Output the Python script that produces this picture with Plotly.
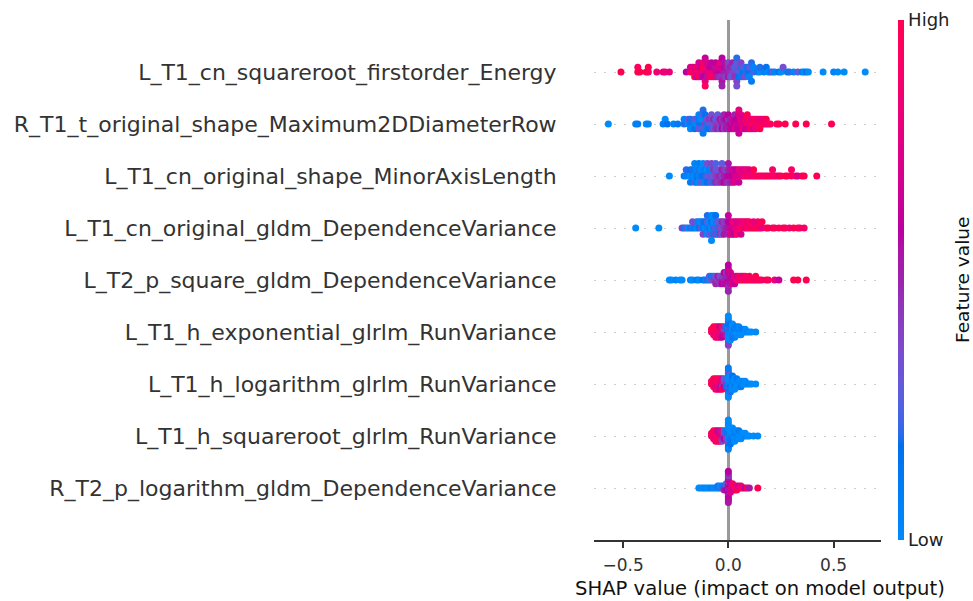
import numpy as np
import plotly.graph_objects as go

# ---------------- data ----------------
features = [
    "L_T1_cn_squareroot_firstorder_Energy",
    "R_T1_t_original_shape_Maximum2DDiameterRow",
    "L_T1_cn_original_shape_MinorAxisLength",
    "L_T1_cn_original_gldm_DependenceVariance",
    "L_T2_p_square_gldm_DependenceVariance",
    "L_T1_h_exponential_glrlm_RunVariance",
    "L_T1_h_logarithm_glrlm_RunVariance",
    "L_T1_h_squareroot_glrlm_RunVariance",
    "R_T2_p_logarithm_gldm_DependenceVariance",
]
x_tick_vals = [-0.5, 0.0, 0.5]
x_tick_text = ["\u22120.5", "0.0", "0.5"]
colorbar_labels = ["Low", "High"]

shap_energy = [
    -0.51, -0.43, -0.43, -0.42, -0.39, -0.38, -0.38, -0.34, -0.31, -0.30, -0.28,
    -0.20, -0.18, -0.18, -0.17, -0.17, -0.16, -0.16, -0.16, -0.15, -0.15, -0.15,
    -0.14, -0.14, -0.14, -0.14, -0.13, -0.13, -0.13, -0.12, -0.12, -0.12, -0.12,
    -0.11, -0.11, -0.11, -0.10, -0.10, -0.10, -0.10, -0.09, -0.09, -0.09,
    -0.08, -0.08, -0.08, -0.08, -0.07, -0.07, -0.07, -0.06, -0.06, -0.06, -0.06,
    -0.05, -0.05, -0.05, -0.04, -0.04, -0.04, -0.04, -0.03, -0.03, -0.03,
    -0.02, -0.02, -0.02, -0.02, -0.01, -0.01, -0.01, 0.00, 0.00, 0.00, 0.00,
    0.01, 0.01, 0.01, 0.02, 0.02, 0.02, 0.02, 0.03, 0.03, 0.03,
    0.04, 0.04, 0.04, 0.04, 0.05, 0.05, 0.05, 0.06, 0.06, 0.06, 0.06,
    0.07, 0.07, 0.07, 0.08, 0.08, 0.08, 0.09, 0.09, 0.10, 0.10, 0.10, 0.11, 0.11, 0.12, 0.12,
    0.14, 0.15, 0.15, 0.17, 0.18, 0.19, 0.20, 0.21, 0.22, 0.24, 0.25, 0.26, 0.28, 0.29, 0.31,
    0.33, 0.35, 0.36, 0.37, 0.38, 0.45, 0.50, 0.52, 0.55, 0.65,
]
feat_energy = [
    1.0, 1.0, 0.95, 1.0, 1.0, 0.95, 1.0, 0.85, 0.8, 0.85, 0.8,
    0.6, 0.9, 0.7, 1.0, 0.8, 0.85, 0.7, 0.95, 0.8, 1.0, 0.65,
    0.85, 0.75, 1.0, 0.7, 0.9, 0.65, 0.8, 0.75, 1.0, 0.6, 0.85,
    0.8, 0.65, 0.95, 0.7, 0.85, 0.55, 0.75, 0.9, 0.65, 0.8,
    0.75, 0.6, 0.9, 0.6, 0.85, 0.65, 1.0, 0.7, 0.55, 0.8, 0.6,
    0.65, 0.75, 0.5, 0.6, 0.7, 0.45, 0.8, 0.55, 0.6, 0.5,
    0.5, 0.6, 0.45, 0.55, 0.5, 0.55, 0.4, 0.5, 0.45, 0.55, 0.4,
    0.45, 0.5, 0.35, 0.4, 0.45, 0.3, 0.5, 0.4, 0.25, 0.45,
    0.3, 0.4, 0.2, 0.35, 0.25, 0.35, 0.15, 0.3, 0.2, 0.1, 0.4,
    0.15, 0.3, 0.2, 0.1, 0.25, 0.35, 0.2, 0.1, 0.15, 0.3, 0.05, 0.2, 0.1, 0.25, 0.05,
    0.1, 0.0, 0.2, 0.05, 0.15, 0.0, 0.1, 0.3, 0.05, 0.15, 0.0, 0.35, 0.1, 0.2, 0.05,
    0.3, 0.1, 0.0, 0.15, 0.0, 0.0, 0.05, 0.0, 0.0, 0.0,
]

shap_diameter = [
    -0.57, -0.44, -0.43, -0.39, -0.38, -0.31, -0.30, -0.29, -0.26, -0.24,
    -0.21, -0.21, -0.19, -0.19, -0.18, -0.18, -0.18, -0.16, -0.16, -0.16, -0.15, -0.15,
    -0.14, -0.14, -0.14, -0.14, -0.13, -0.13, -0.13, -0.12, -0.12, -0.12,
    -0.11, -0.11, -0.11, -0.11, -0.10, -0.10, -0.10, -0.09, -0.09, -0.09,
    -0.08, -0.08, -0.08, -0.08, -0.07, -0.07, -0.07, -0.06, -0.06, -0.06,
    -0.05, -0.05, -0.05, -0.05, -0.04, -0.04, -0.04, -0.03, -0.03, -0.03,
    -0.02, -0.02, -0.02, -0.02, -0.01, -0.01, -0.01, 0.00, 0.00, 0.00, 0.00,
    0.01, 0.01, 0.01, 0.02, 0.02, 0.02, 0.03, 0.03, 0.03, 0.03,
    0.04, 0.04, 0.04, 0.05, 0.05, 0.05, 0.06, 0.06, 0.06, 0.06,
    0.07, 0.07, 0.07, 0.08, 0.08, 0.08, 0.09, 0.09, 0.09, 0.09,
    0.10, 0.10, 0.10, 0.11, 0.11, 0.11, 0.12, 0.12, 0.12, 0.13, 0.13, 0.13,
    0.14, 0.14, 0.15, 0.15, 0.15, 0.16, 0.16, 0.17, 0.17, 0.18, 0.18, 0.19, 0.20,
    0.23, 0.24, 0.27, 0.32, 0.37, 0.49,
]
feat_diameter = [
    0.0, 0.05, 0.1, 0.0, 0.05, 0.1, 0.0, 0.15, 0.05, 0.1,
    0.2, 0.05, 0.0, 0.3, 0.1, 0.2, 0.0, 0.05, 0.25, 0.15, 0.0, 0.3,
    0.2, 0.1, 0.35, 0.05, 0.15, 0.0, 0.25, 0.3, 0.1, 0.2,
    0.4, 0.05, 0.25, 0.15, 0.2, 0.35, 0.1, 0.3, 0.45, 0.15,
    0.25, 0.4, 0.2, 0.35, 0.35, 0.5, 0.3, 0.4, 0.25, 0.45,
    0.45, 0.35, 0.5, 0.3, 0.4, 0.55, 0.35, 0.5, 0.45, 0.6,
    0.45, 0.55, 0.4, 0.5, 0.5, 0.6, 0.55, 0.55, 0.45, 0.5, 0.6,
    0.6, 0.5, 0.65, 0.55, 0.7, 0.6, 0.65, 0.6, 0.75, 0.5,
    0.7, 0.6, 0.65, 0.75, 0.65, 0.8, 0.7, 0.85, 0.6, 0.75,
    0.8, 0.7, 0.9, 0.75, 0.85, 0.65, 0.9, 0.8, 0.7, 1.0,
    0.85, 0.95, 0.75, 0.9, 0.8, 1.0, 0.95, 0.85, 0.7, 1.0, 0.9, 0.8,
    0.85, 1.0, 0.9, 0.75, 1.0, 0.95, 0.85, 1.0, 0.8, 0.9, 1.0, 0.85, 0.95,
    0.9, 1.0, 1.0, 1.0, 1.0, 1.0,
]

shap_minoraxis = [
    -0.28, -0.21, -0.20, -0.20, -0.18, -0.18, -0.18, -0.17, -0.17,
    -0.16, -0.16, -0.16, -0.16, -0.15, -0.15, -0.15, -0.14, -0.14, -0.14, -0.14,
    -0.13, -0.13, -0.13, -0.12, -0.12, -0.12, -0.12, -0.11, -0.11, -0.11,
    -0.10, -0.10, -0.10, -0.10, -0.09, -0.09, -0.09, -0.08, -0.08, -0.08, -0.08,
    -0.07, -0.07, -0.07, -0.06, -0.06, -0.06, -0.06, -0.05, -0.05, -0.05,
    -0.04, -0.04, -0.04, -0.03, -0.03, -0.03, -0.03, -0.02, -0.02, -0.02,
    -0.01, -0.01, -0.01, 0.00, 0.00, 0.00, 0.00, 0.01, 0.01, 0.01,
    0.02, 0.02, 0.02, 0.03, 0.03, 0.03, 0.04, 0.04, 0.05, 0.05, 0.05,
    0.06, 0.06, 0.07, 0.07, 0.08, 0.08, 0.09, 0.09, 0.10, 0.10, 0.11, 0.12, 0.12,
    0.13, 0.14, 0.15, 0.16, 0.17, 0.18, 0.19, 0.20, 0.21, 0.21, 0.22, 0.23, 0.24,
    0.25, 0.27, 0.28, 0.30, 0.30, 0.32, 0.33, 0.35, 0.36, 0.42,
]
feat_minoraxis = [
    0.0, 0.1, 0.05, 0.2, 0.0, 0.15, 0.1, 0.05, 0.2,
    0.0, 0.1, 0.25, 0.05, 0.15, 0.0, 0.1, 0.05, 0.2, 0.0, 0.1,
    0.1, 0.0, 0.25, 0.15, 0.05, 0.3, 0.0, 0.2, 0.1, 0.05,
    0.25, 0.0, 0.15, 0.35, 0.3, 0.1, 0.2, 0.35, 0.05, 0.25, 0.4,
    0.3, 0.45, 0.2, 0.4, 0.35, 0.5, 0.25, 0.45, 0.3, 0.4,
    0.5, 0.35, 0.45, 0.4, 0.55, 0.5, 0.3, 0.5, 0.45, 0.6,
    0.55, 0.4, 0.5, 0.6, 0.5, 0.45, 0.55, 0.65, 0.55, 0.5,
    0.6, 0.7, 0.55, 0.7, 0.65, 0.75, 0.75, 0.6, 0.7, 0.8, 0.65,
    0.75, 0.85, 0.8, 0.7, 0.9, 0.75, 0.8, 0.85, 0.95, 0.75, 0.85, 0.9, 1.0,
    0.85, 1.0, 0.9, 1.0, 0.8, 0.95, 1.0, 0.85, 1.0, 0.9, 0.9, 1.0, 0.75,
    1.0, 0.95, 1.0, 1.0, 0.9, 0.9, 0.7, 1.0, 1.0, 1.0,
]

shap_depvar_t1 = [
    -0.44, -0.33, -0.22, -0.21, -0.20, -0.19, -0.18, -0.17, -0.17, -0.16,
    -0.15, -0.15, -0.14, -0.14, -0.13, -0.13, -0.12, -0.12, -0.12, -0.11, -0.11,
    -0.10, -0.10, -0.10, -0.10, -0.09, -0.09, -0.09, -0.08, -0.08, -0.08, -0.08, -0.08,
    -0.07, -0.07, -0.07, -0.07, -0.06, -0.06, -0.06, -0.06, -0.05, -0.05, -0.05,
    -0.04, -0.04, -0.04, -0.03, -0.03, -0.03, -0.02, -0.02, -0.02, -0.01, -0.01,
    0.00, 0.00, 0.00, 0.00, 0.01, 0.01, 0.01, 0.02, 0.02, 0.02, 0.03, 0.03, 0.03,
    0.04, 0.04, 0.04, 0.05, 0.05, 0.06, 0.06, 0.06, 0.07, 0.07, 0.08, 0.08, 0.09, 0.09,
    0.10, 0.10, 0.11, 0.12, 0.12, 0.13, 0.14, 0.14, 0.15, 0.16, 0.16, 0.18, 0.19,
    0.21, 0.22, 0.24, 0.26, 0.27, 0.29, 0.31, 0.33, 0.34, 0.36,
]
feat_depvar_t1 = [
    0.0, 0.0, 0.4, 0.1, 0.3, 0.0, 0.2, 0.05, 0.35, 0.1,
    0.0, 0.25, 0.15, 0.05, 0.3, 0.0, 0.1, 0.2, 0.4, 0.0, 0.15,
    0.05, 0.3, 0.0, 0.2, 0.1, 0.0, 0.25, 0.0, 0.15, 0.35, 0.05, 0.0,
    0.2, 0.0, 0.1, 0.0, 0.3, 0.05, 0.4, 0.15, 0.2, 0.35, 0.1,
    0.4, 0.25, 0.45, 0.35, 0.5, 0.3, 0.45, 0.4, 0.55, 0.5, 0.45,
    0.55, 0.6, 0.5, 0.65, 0.7, 0.6, 0.75, 0.65, 0.8, 0.7, 0.75, 0.85, 0.6,
    0.8, 0.7, 0.9, 0.85, 0.75, 0.9, 0.8, 0.7, 0.95, 0.85, 0.8, 0.9, 1.0, 0.75,
    0.85, 0.95, 0.9, 1.0, 0.8, 0.9, 1.0, 0.85, 0.95, 0.8, 1.0, 0.9, 1.0,
    0.85, 1.0, 0.95, 0.9, 1.0, 0.85, 1.0, 0.9, 0.95, 0.9,
]

shap_depvar_t2 = [
    -0.28, -0.27, -0.25, -0.23, -0.22, -0.18, -0.17, -0.15, -0.14, -0.12, -0.11, -0.10, -0.09, -0.09,
    -0.08, -0.08, -0.07, -0.07, -0.06, -0.06, -0.06, -0.05, -0.05, -0.04, -0.04, -0.04,
    -0.03, -0.03, -0.03, -0.02, -0.02, -0.02, -0.02, -0.01, -0.01, -0.01, -0.01,
    0.00, 0.00, 0.00, 0.00, 0.00, 0.00, 0.00, 0.00, 0.01, 0.01, 0.01, 0.01,
    0.02, 0.02, 0.02, 0.03, 0.03, 0.03, 0.04, 0.04, 0.05, 0.05, 0.06, 0.06, 0.07, 0.07,
    0.08, 0.08, 0.09, 0.10, 0.10, 0.11, 0.12, 0.13, 0.13, 0.14, 0.15, 0.16, 0.18, 0.19,
    0.22, 0.24, 0.31, 0.33, 0.37,
]
feat_depvar_t2 = [
    0.0, 0.0, 0.05, 0.0, 0.0, 0.05, 0.0, 0.1, 0.0, 0.15, 0.05, 0.2, 0.0, 0.3,
    0.35, 0.1, 0.4, 0.2, 0.45, 0.3, 0.5, 0.4, 0.55, 0.5, 0.35, 0.45,
    0.55, 0.4, 0.6, 0.5, 0.45, 0.55, 0.6, 0.55, 0.5, 0.65, 0.45,
    0.6, 0.5, 0.55, 0.65, 0.45, 0.7, 0.5, 0.6, 0.6, 0.65, 0.55, 0.7,
    0.7, 0.6, 0.75, 0.75, 0.8, 0.65, 0.85, 0.7, 0.9, 0.8, 0.85, 1.0, 0.95, 0.75,
    1.0, 0.9, 0.85, 1.0, 0.95, 0.9, 1.0, 0.85, 1.0, 0.95, 1.0, 0.9, 1.0, 0.95,
    0.8, 0.65, 1.0, 1.0, 1.0,
]

shap_runvar_exp = [
    -0.08, -0.08, -0.07, -0.07, -0.07, -0.07, -0.06, -0.06, -0.06, -0.06, -0.06,
    -0.05, -0.05, -0.05, -0.05, -0.05, -0.04, -0.04, -0.04, -0.04, -0.04,
    -0.03, -0.03, -0.03, -0.03, -0.03, -0.02, -0.02, -0.02, -0.02, -0.01, -0.01, -0.01, -0.01,
    0.00, 0.00, 0.00, 0.00, 0.00, 0.00, 0.00, 0.00, 0.00, 0.00, 0.00, 0.00,
    0.01, 0.01, 0.01, 0.01, 0.01, 0.01, 0.01, 0.02, 0.02, 0.02, 0.02, 0.02, 0.02,
    0.03, 0.03, 0.03, 0.03, 0.03, 0.04, 0.04, 0.04, 0.04, 0.05, 0.05, 0.05, 0.05,
    0.06, 0.06, 0.06, 0.07, 0.07, 0.08, 0.08, 0.09, 0.10, 0.11, 0.13,
]
feat_runvar_exp = [
    1.0, 0.9, 1.0, 0.95, 0.85, 1.0, 0.9, 1.0, 0.8, 1.0, 0.95,
    1.0, 0.85, 0.95, 1.0, 0.7, 0.9, 1.0, 0.8, 0.6, 0.95,
    0.7, 0.85, 0.5, 1.0, 0.6, 0.55, 0.3, 0.7, 0.45, 0.35, 0.2, 0.5, 0.1,
    0.0, 0.1, 0.05, 0.3, 0.0, 0.15, 0.0, 0.2, 0.05, 0.0, 0.4, 0.0,
    0.0, 0.1, 0.05, 0.2, 0.0, 0.15, 0.0, 0.05, 0.0, 0.1, 0.0, 0.2, 0.0,
    0.0, 0.15, 0.0, 0.05, 0.1, 0.0, 0.05, 0.0, 0.1, 0.0, 0.1, 0.0, 0.05,
    0.0, 0.05, 0.0, 0.0, 0.1, 0.0, 0.0, 0.05, 0.0, 0.0, 0.0,
]

shap_runvar_log = [
    -0.08, -0.08, -0.07, -0.07, -0.07, -0.07, -0.06, -0.06, -0.06, -0.06, -0.06,
    -0.05, -0.05, -0.05, -0.05, -0.05, -0.04, -0.04, -0.04, -0.04, -0.04,
    -0.03, -0.03, -0.03, -0.03, -0.03, -0.02, -0.02, -0.02, -0.02, -0.01, -0.01, -0.01, -0.01,
    0.00, 0.00, 0.00, 0.00, 0.00, 0.00, 0.00, 0.00, 0.00, 0.00, 0.00, 0.00,
    0.01, 0.01, 0.01, 0.01, 0.01, 0.01, 0.01, 0.02, 0.02, 0.02, 0.02, 0.02, 0.02,
    0.03, 0.03, 0.03, 0.03, 0.03, 0.04, 0.04, 0.04, 0.04, 0.05, 0.05, 0.05,
    0.06, 0.06, 0.06, 0.07, 0.07, 0.08, 0.08, 0.09, 0.10, 0.11, 0.13,
]
feat_runvar_log = [
    1.0, 0.95, 1.0, 0.85, 0.95, 1.0, 1.0, 0.9, 0.75, 1.0, 0.85,
    0.9, 1.0, 0.7, 0.95, 1.0, 1.0, 0.8, 0.55, 0.9, 0.65,
    0.6, 0.9, 0.45, 0.75, 1.0, 0.5, 0.35, 0.65, 0.3, 0.3, 0.45, 0.15, 0.25,
    0.0, 0.05, 0.1, 0.0, 0.25, 0.0, 0.15, 0.05, 0.0, 0.35, 0.0, 0.1,
    0.05, 0.0, 0.15, 0.0, 0.1, 0.0, 0.2, 0.0, 0.1, 0.0, 0.05, 0.0, 0.15,
    0.0, 0.05, 0.1, 0.0, 0.0, 0.05, 0.0, 0.0, 0.1, 0.0, 0.05, 0.0,
    0.0, 0.0, 0.1, 0.0, 0.05, 0.0, 0.0, 0.0, 0.05, 0.0, 0.0,
]

shap_runvar_sqrt = [
    -0.08, -0.08, -0.07, -0.07, -0.07, -0.07, -0.06, -0.06, -0.06, -0.06, -0.06,
    -0.05, -0.05, -0.05, -0.05, -0.05, -0.04, -0.04, -0.04, -0.04, -0.04,
    -0.03, -0.03, -0.03, -0.03, -0.03, -0.02, -0.02, -0.02, -0.02, -0.01, -0.01, -0.01, -0.01,
    0.00, 0.00, 0.00, 0.00, 0.00, 0.00, 0.00, 0.00, 0.00, 0.00, 0.00, 0.00,
    0.01, 0.01, 0.01, 0.01, 0.01, 0.01, 0.01, 0.02, 0.02, 0.02, 0.02, 0.02, 0.02,
    0.03, 0.03, 0.03, 0.03, 0.03, 0.04, 0.04, 0.04, 0.04, 0.05, 0.05, 0.05, 0.05,
    0.06, 0.06, 0.06, 0.07, 0.07, 0.08, 0.08, 0.09, 0.10, 0.12, 0.14,
]
feat_runvar_sqrt = [
    0.85, 1.0, 1.0, 0.8, 0.9, 1.0, 0.85, 1.0, 0.75, 0.95, 0.9,
    1.0, 0.8, 0.9, 0.65, 1.0, 0.85, 0.7, 1.0, 0.55, 0.9,
    0.6, 0.8, 0.5, 0.95, 0.4, 0.45, 0.3, 0.6, 0.25, 0.35, 0.2, 0.4, 0.1,
    0.0, 0.1, 0.0, 0.2, 0.05, 0.0, 0.3, 0.0, 0.15, 0.0, 0.05, 0.0,
    0.0, 0.05, 0.2, 0.0, 0.1, 0.0, 0.15, 0.1, 0.0, 0.05, 0.0, 0.15, 0.0,
    0.0, 0.1, 0.0, 0.05, 0.0, 0.0, 0.1, 0.05, 0.0, 0.05, 0.0, 0.0, 0.1,
    0.0, 0.05, 0.0, 0.0, 0.0, 0.05, 0.0, 0.0, 0.0, 0.0, 0.0,
]

shap_depvar_r = [
    -0.14, -0.13, -0.12, -0.11, -0.10, -0.09, -0.08, -0.07, -0.06, -0.05, -0.05, -0.04, -0.04, -0.03, -0.03,
    -0.02, -0.02, -0.02, -0.01, -0.01, -0.01, -0.01,
    0.00, 0.00, 0.00, 0.00, 0.00, 0.00, 0.00, 0.00, 0.00, 0.00, 0.00, 0.00, 0.00, 0.00, 0.00, 0.00,
    0.01, 0.01, 0.01, 0.01, 0.01, 0.02, 0.02, 0.02, 0.02, 0.03, 0.03, 0.03,
    0.04, 0.04, 0.04, 0.05, 0.05, 0.06, 0.06, 0.07, 0.08, 0.09, 0.10, 0.14,
]
feat_depvar_r = [
    0.0, 0.0, 0.0, 0.05, 0.0, 0.0, 0.1, 0.0, 0.05, 0.0, 0.2, 0.1, 0.0, 0.3, 0.05,
    0.45, 0.2, 0.5, 0.55, 0.4, 0.6, 0.3,
    0.55, 0.6, 0.5, 0.65, 0.55, 0.45, 0.6, 0.7, 0.5, 0.55, 0.6, 0.4, 0.65, 0.5, 0.55, 0.6,
    0.7, 0.6, 0.8, 0.65, 0.75, 0.8, 0.9, 0.7, 0.85, 0.85, 1.0, 0.75,
    0.9, 0.8, 1.0, 0.95, 0.7, 1.0, 0.85, 0.9, 0.6, 1.0, 0.55, 1.0,
]

row_shap = [shap_energy, shap_diameter, shap_minoraxis, shap_depvar_t1, shap_depvar_t2,
            shap_runvar_exp, shap_runvar_log, shap_runvar_sqrt, shap_depvar_r]
row_feat = [feat_energy, feat_diameter, feat_minoraxis, feat_depvar_t1, feat_depvar_t2,
            feat_runvar_exp, feat_runvar_log, feat_runvar_sqrt, feat_depvar_r]


# ---------------- SHAP red_blue colormap (LCH interpolation) ----------------
def lch_to_hex(l, c, h):
    a, b = c * np.cos(h), c * np.sin(h)
    fy = (l + 16.0) / 116.0
    f = np.array([fy + a / 500.0, fy, fy - b / 200.0])
    xyz = np.where(f > 0.2068966, f ** 3, (f - 16.0 / 116.0) / 7.787)
    xyz = xyz * np.array([0.95047, 1.0, 1.08883])
    m = np.linalg.inv(np.array([[0.412453, 0.357580, 0.180423],
                                [0.212671, 0.715160, 0.072169],
                                [0.019334, 0.119193, 0.950227]]))
    lin = m @ xyz
    rgb = np.where(lin > 0.0031308, 1.055 * np.power(np.clip(lin, 1e-12, None), 1 / 2.4) - 0.055, lin * 12.92)
    rgb = np.clip(rgb, 0, 1)
    r, g, bb = (np.round(rgb * 255)).astype(int)
    return "#%02x%02x%02x" % (r, g, bb)


blue_lch = [54.0, 70.0, 4.6588]
red_lch = [54.0, 90.0, 0.35470565 + 2 * np.pi]
l_mid = 40.0
nsteps = 100
l_vals = list(np.linspace(blue_lch[0], l_mid, nsteps // 2)) + list(np.linspace(l_mid, red_lch[0], nsteps // 2))
c_vals = np.linspace(blue_lch[1], red_lch[1], nsteps)
h_vals = np.linspace(blue_lch[2], red_lch[2], nsteps)
colorscale = [[float(p), lch_to_hex(l, c, h)]
              for p, l, c, h in zip(np.linspace(0, 1, nsteps), l_vals, c_vals, h_vals)]


# ---------------- beeswarm layout (as in shap) ----------------
def swarm_offsets(values, row_height=0.4, nbins=100):
    v = np.asarray(values, float)
    quant = np.round(nbins * (v - v.min()) / (v.max() - v.min() + 1e-8))
    inds = np.argsort(quant, kind="stable")
    layer, last = 0, -1
    ys = np.zeros(len(v))
    for ind in inds:
        if quant[ind] != last:
            layer = 0
        ys[ind] = np.ceil(layer / 2) * ((layer % 2) * 2 - 1)
        layer += 1
        last = quant[ind]
    ys *= 0.9 * (row_height / np.max(ys + 1))
    return ys


n_rows = len(features)
fig = go.Figure()
for i, (sv, fv) in enumerate(zip(row_shap, row_feat)):
    pos = n_rows - 1 - i
    ys = pos + swarm_offsets(sv)
    fig.add_trace(go.Scatter(
        x=sv, y=ys, mode="markers", showlegend=False, hoverinfo="skip",
        marker=dict(size=7, color=fv, colorscale=colorscale, cmin=0, cmax=1,
                    line=dict(width=0), opacity=1,
                    showscale=(i == 0),
                    colorbar=dict(thickness=6, len=1, lenmode="fraction",
                                  x=1.059, xanchor="left", xpad=0,
                                  y=0.5, yanchor="middle", ypad=0,
                                  outlinewidth=0, ticks="",
                                  tickvals=[0, 1], ticktext=colorbar_labels,
                                  tickfont=dict(family="DejaVu Sans", size=18, color="#222222"))),
    ))

fig.update_layout(
    width=973, height=601,
    margin=dict(l=594, r=92, t=20, b=61),
    paper_bgcolor="white", plot_bgcolor="white",
    font=dict(family="DejaVu Sans", color="#333333"),
    xaxis=dict(range=[-0.638, 0.725], showgrid=False,
               zeroline=True, zerolinecolor="#999999", zerolinewidth=2.5,
               showline=True, linecolor="#333333", linewidth=1.5,
               ticks="outside", ticklen=6, tickwidth=1.5, tickcolor="#333333",
               ticklabelstandoff=3,
               tickvals=x_tick_vals, ticktext=x_tick_text,
               tickfont=dict(size=17, color="#333333")),
    yaxis=dict(range=[-1, n_rows], showgrid=True, gridcolor="#cccccc",
               gridwidth=1, griddash="2px,8px", zeroline=False, showline=False,
               tickvals=list(range(n_rows)), ticktext=features[::-1],
               ticks="outside", ticklen=32, tickcolor="rgba(0,0,0,0)",
               tickfont=dict(size=22, color="#333333"), automargin=False),
    annotations=[
        dict(text="SHAP value (impact on model output)", xref="paper", yref="paper",
             x=0.578, y=-0.0942, xanchor="center", yanchor="middle", showarrow=False,
             font=dict(family="DejaVu Sans", size=19.6, color="#111111")),
        dict(text="Feature value", xref="paper", yref="paper",
             x=1.282, y=0.5, xanchor="center", yanchor="middle", showarrow=False,
             textangle=-90, font=dict(family="DejaVu Sans", size=18.5, color="#111111")),
    ],
)

fig.write_html("out.html")
